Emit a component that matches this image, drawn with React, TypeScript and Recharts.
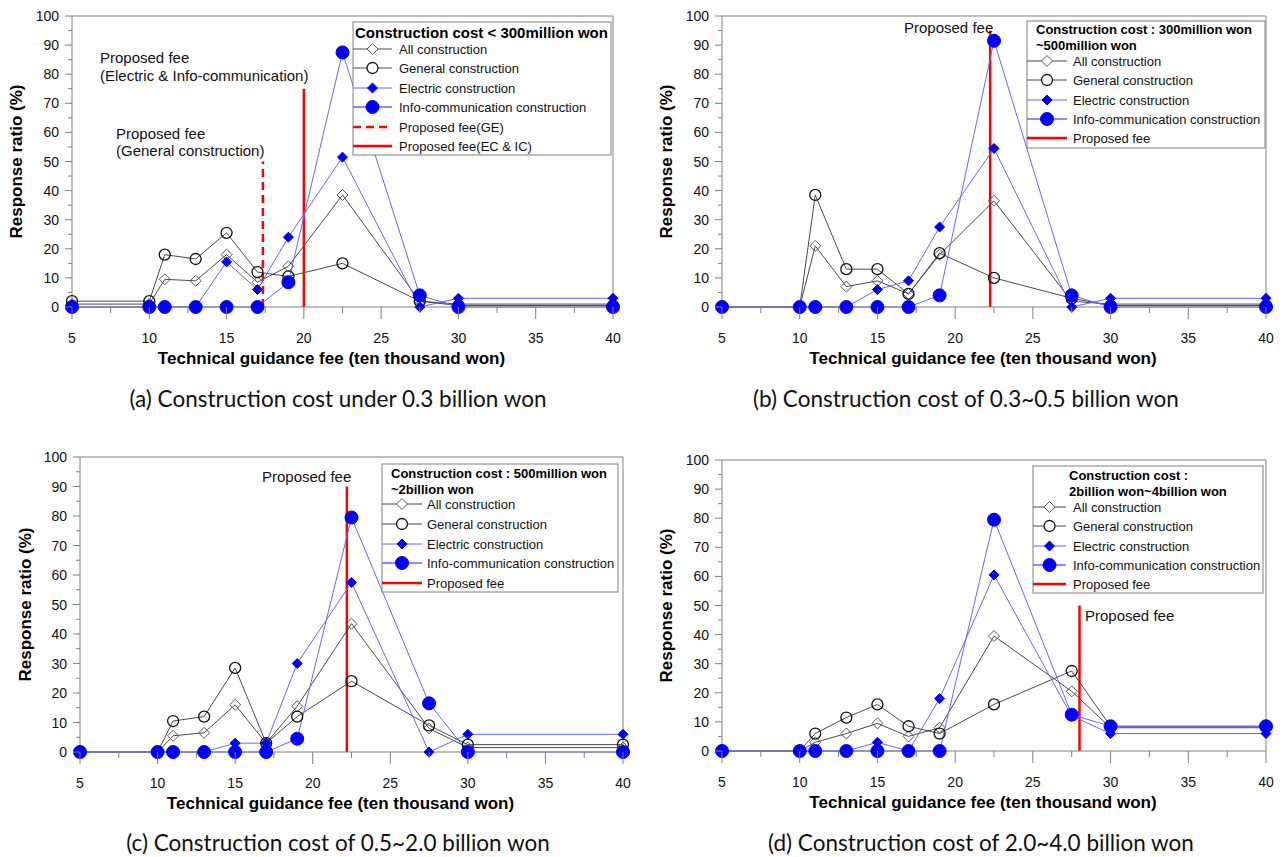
import React from 'react';
import { LineChart, Line, XAxis, YAxis, ReferenceLine } from 'recharts';

// ---------------- data ----------------
const fees = [5, 10, 11, 13, 15, 17, 19, 22.5, 27.5, 30, 40];

// (a) construction cost < 300 million won
const aAll = [1, 1, 9.5, 9, 18, 8.5, 14, 38.5, 2, 1, 1];
const aGeneral = [2, 2, 18, 16.5, 25.5, 12, 10.5, 15, 2, 0.5, 0.5];
const aElectric = [0, 0, 0, 0, 15.5, 6, 24, 51.5, 0, 3, 3];
const aInfo = [0, 0, 0, 0, 0, 0, 8.5, 87.5, 4, 0, 0];

// (b) 300 million ~ 500 million won
const bAll = [0, 0, 21, 7, 9, 4.5, 18, 36.5, 2, 1, 1];
const bGeneral = [0, 0, 38.5, 13, 13, 4.5, 18.5, 10, 3, 0.5, 0.5];
const bElectric = [0, 0, 0, 0, 6, 9, 27.5, 54.5, 0, 3, 3];
const bInfo = [0, 0, 0, 0, 0, 0, 4, 91.5, 4, 0, 0];

// (c) 500 million ~ 2 billion won
const cAll = [0, 0, 5.5, 6.5, 16, 3, 15.5, 43.5, 8, 1.5, 1.5];
const cGeneral = [0, 0, 10.5, 12, 28.5, 3, 12, 24, 9, 2.5, 2.5];
const cElectric = [0, 0, 0, 0, 3, 3, 30, 57.5, 0, 6, 6];
const cInfo = [0, 0, 0, 0, 0, 0, 4.5, 79.5, 16.5, 0, 0];

// (d) 2 billion ~ 4 billion won
const dAll = [0, 0, 3, 6, 9.5, 5, 8, 39.5, 20.5, 8, 8];
const dGeneral = [0, 0, 6, 11.5, 16, 8.5, 6, 16, 27.5, 8.5, 8.5];
const dElectric = [0, 0, 0, 0, 3, 0, 18, 60.5, 12, 6, 6];
const dInfo = [0, 0, 0, 0, 0, 0, 0, 79.5, 12.5, 8.5, 8.5];

// proposed fee lines: [x, top value]
const aFeeGE = [17.35, 50];
const aFeeEC = [20, 75];
const bFee = [22.25, 95];
const cFee = [22.2, 90];
const dFee = [28, 50];

const xTicks = [5, 7.5, 10, 12.5, 15, 17.5, 20, 22.5, 25, 27.5, 30, 32.5, 35, 37.5, 40];
const yTicks = [0, 5, 10, 15, 20, 25, 30, 35, 40, 45, 50, 55, 60, 65, 70, 75, 80, 85, 90, 95, 100];

const seriesLabels = ['All construction', 'General construction', 'Electric construction', 'Info-communication construction'];

// ---------------- styles ----------------
const FONT = '"Liberation Sans", Arial, sans-serif';
const CAP_FONT = 'Lato, "Open Sans", sans-serif';
const BLUE = '#0000ff';
const BLUE_LINE = '#6666ff';
const GRAY_LINE = '#4a4a4a';
const AXIS = '#808080';
const RED = '#ff0000';

type Geo = { x0: number; x1: number; y0: number; y1: number };
const PA: Geo = { x0: 72, x1: 613, y0: 16, y1: 307 };
const PB: Geo = { x0: 722, x1: 1266, y0: 16, y1: 307 };
const PC: Geo = { x0: 80, x1: 623, y0: 457, y1: 752 };
const PD: Geo = { x0: 722, x1: 1266, y0: 460, y1: 751 };

function YTick(props: any) {
  const { x, y, payload } = props;
  const v = payload.value;
  const major = v % 10 === 0;
  return (
    <g>
      <line x1={x - (major ? 7 : 4)} x2={x} y1={y} y2={y} stroke={AXIS} strokeWidth={1} />
      {major && (
        <text x={x - 13} y={y} textAnchor="end" dominantBaseline="central" fontSize={14} fill="#111" fontFamily={FONT}>
          {v}
        </text>
      )}
    </g>
  );
}

function XTick(props: any) {
  const { x, y, payload } = props;
  const v = payload.value;
  const major = v % 5 === 0;
  return (
    <g>
      <line x1={x} x2={x} y1={y} y2={y + (major ? 12 : 6)} stroke={AXIS} strokeWidth={1} />
      {major && (
        <text x={x} y={y + 31} textAnchor="middle" dominantBaseline="central" fontSize={14} fill="#111" fontFamily={FONT}>
          {v}
        </text>
      )}
    </g>
  );
}

const diamondPath = (cx: number, cy: number, s: number) => `M${cx},${cy - s}L${cx + s},${cy}L${cx},${cy + s}L${cx - s},${cy}Z`;

const diamondDot = (filled: boolean) => (p: any) => {
  const { cx, cy, index } = p;
  if (cx == null || cy == null) return <g key={`d${index}`} />;
  return (
    <path
      key={`d${index}`}
      d={diamondPath(cx, cy, filled ? 5 : 5.5)}
      fill={filled ? BLUE : 'none'}
      stroke={filled ? BLUE : '#555'}
      strokeWidth={1}
    />
  );
};

type RefSeg = { x: number; top: number; dashed?: boolean };

function Chart({ g, all, general, electric, info, refs }: { g: Geo; all: number[]; general: number[]; electric: number[]; info: number[]; refs: RefSeg[] }) {
  const ML = 72, MT = 16, MR = 30, MB = 50;
  const YW = 60, XH = 30;
  const width = g.x1 - g.x0 + ML + MR;
  const height = g.y1 - g.y0 + MT + MB;
  const rows = fees.map((f, i) => ({ fee: f, all: all[i], general: general[i], electric: electric[i], info: info[i] }));
  return (
    <div style={{ position: 'absolute', left: g.x0 - ML, top: g.y0 - MT }}>
      <LineChart width={width} height={height} data={rows} margin={{ left: ML - YW, top: MT, right: MR, bottom: MB - XH }}>
        <XAxis
          type="number"
          dataKey="fee"
          domain={[5, 40]}
          ticks={xTicks}
          interval={0}
          tickSize={0}
          tickMargin={0}
          tickLine={false}
          tick={<XTick />}
          stroke={AXIS}
          height={XH}
        />
        <YAxis
          type="number"
          domain={[0, 100]}
          ticks={yTicks}
          interval={0}
          tickSize={0}
          tickMargin={0}
          tickLine={false}
          tick={<YTick />}
          stroke={AXIS}
          width={YW}
        />
        <ReferenceLine y={100} stroke={AXIS} strokeWidth={1} />
        <ReferenceLine x={40} stroke={AXIS} strokeWidth={1} />
        {refs.map((r, i) => (
          <ReferenceLine
            key={`r${i}`}
            segment={[{ x: r.x, y: 0 }, { x: r.x, y: r.top }]}
            stroke={RED}
            strokeWidth={2.5}
            strokeDasharray={r.dashed ? '8 5' : undefined}
            ifOverflow="visible"
          />
        ))}
        <Line type="linear" dataKey="all" stroke={GRAY_LINE} strokeWidth={1} dot={diamondDot(false)} activeDot={false} isAnimationActive={false} />
        <Line type="linear" dataKey="general" stroke={GRAY_LINE} strokeWidth={1} dot={{ r: 5.5, fill: 'none', stroke: '#111', strokeWidth: 1.3 }} activeDot={false} isAnimationActive={false} />
        <Line type="linear" dataKey="electric" stroke={BLUE_LINE} strokeWidth={1} dot={diamondDot(true)} activeDot={false} isAnimationActive={false} />
        <Line type="linear" dataKey="info" stroke={BLUE_LINE} strokeWidth={1} dot={{ r: 6.5, fill: BLUE, stroke: BLUE, strokeWidth: 1 }} activeDot={false} isAnimationActive={false} />
      </LineChart>
    </div>
  );
}

type LegendSpec = {
  box: [number, number, number, number];
  titleSize: number;
  titleX: number;
  titles: [string, number][];
  rows: number[];
  sym: [number, number];
  textX: number;
  extra: { label: string; dashed: boolean }[];
};

function LegendSym({ kind, x0, x1, y }: { kind: string; x0: number; x1: number; y: number }) {
  const cx = (x0 + x1) / 2;
  if (kind === 'all')
    return (
      <g>
        <line x1={x0} x2={x1} y1={y} y2={y} stroke={GRAY_LINE} strokeWidth={1} />
        <path d={diamondPath(cx, y, 5.5)} fill="#fff" stroke="#555" strokeWidth={1} />
      </g>
    );
  if (kind === 'general')
    return (
      <g>
        <line x1={x0} x2={x1} y1={y} y2={y} stroke={GRAY_LINE} strokeWidth={1} />
        <circle cx={cx} cy={y} r={5.5} fill="#fff" stroke="#111" strokeWidth={1.3} />
      </g>
    );
  if (kind === 'electric')
    return (
      <g>
        <line x1={x0} x2={x1} y1={y} y2={y} stroke={BLUE_LINE} strokeWidth={1} />
        <path d={diamondPath(cx, y, 5)} fill={BLUE} stroke={BLUE} strokeWidth={1} />
      </g>
    );
  if (kind === 'info')
    return (
      <g>
        <line x1={x0} x2={x1} y1={y} y2={y} stroke={BLUE_LINE} strokeWidth={1.5} />
        <circle cx={cx} cy={y} r={6.5} fill={BLUE} stroke={BLUE} />
      </g>
    );
  return <line x1={x0} x2={x1} y1={y} y2={y} stroke={RED} strokeWidth={2.5} strokeDasharray={kind === 'dash' ? '8 5' : undefined} />;
}

function LegendBox({ spec }: { spec: LegendSpec }) {
  const [bx, by, bw, bh] = spec.box;
  const kinds = ['all', 'general', 'electric', 'info'];
  const items = [
    ...seriesLabels.map((l, i) => ({ label: l, kind: kinds[i] })),
    ...spec.extra.map((e) => ({ label: e.label, kind: e.dashed ? 'dash' : 'solid' })),
  ];
  return (
    <g>
      <rect x={bx} y={by} width={bw} height={bh} fill="#fff" stroke={AXIS} strokeWidth={1} />
      {spec.titles.map(([t, ty], i) => (
        <text key={`t${i}`} x={spec.titleX} y={ty} dominantBaseline="central" fontSize={spec.titleSize} fontWeight="bold" fontFamily={FONT} fill="#000">
          {t}
        </text>
      ))}
      {items.map((it, i) => (
        <g key={`i${i}`}>
          <LegendSym kind={it.kind} x0={spec.sym[0]} x1={spec.sym[1]} y={spec.rows[i]} />
          <text x={spec.textX} y={spec.rows[i]} dominantBaseline="central" fontSize={13} fontFamily={FONT} fill="#111">
            {it.label}
          </text>
        </g>
      ))}
    </g>
  );
}

const legendA: LegendSpec = {
  box: [353, 22, 258, 133],
  titleSize: 15,
  titleX: 355,
  titles: [['Construction cost < 300million won', 32]],
  rows: [49, 68, 88, 107, 127, 146],
  sym: [353, 392],
  textX: 399,
  extra: [
    { label: 'Proposed fee(GE)', dashed: true },
    { label: 'Proposed fee(EC & IC)', dashed: false },
  ],
};
const legendB: LegendSpec = {
  box: [1027, 21, 238, 127],
  titleSize: 13,
  titleX: 1036,
  titles: [['Construction cost : 300million won', 29], ['~500million won', 45]],
  rows: [61, 80, 100, 119, 138],
  sym: [1027, 1067],
  textX: 1073,
  extra: [{ label: 'Proposed fee', dashed: false }],
};
const legendC: LegendSpec = {
  box: [382, 464, 236, 128],
  titleSize: 13,
  titleX: 391,
  titles: [['Construction cost : 500million won', 473], ['~2billion won', 489]],
  rows: [504, 524, 544, 563, 583],
  sym: [382, 422],
  textX: 427,
  extra: [{ label: 'Proposed fee', dashed: false }],
};
const legendD: LegendSpec = {
  box: [1033, 466, 230, 127],
  titleSize: 13,
  titleX: 1069,
  titles: [['Construction cost :', 475], ['2billion won~4billion won', 491]],
  rows: [507, 526, 546, 565, 584],
  sym: [1033, 1066],
  textX: 1073,
  extra: [{ label: 'Proposed fee', dashed: false }],
};

function Txt({ x, y, children, size = 15, bold = false, anchor = 'start', family = FONT }: any) {
  return (
    <text x={x} y={y} textAnchor={anchor} dominantBaseline="central" fontSize={size} fontWeight={bold ? 'bold' : 'normal'} fontFamily={family} fill="#111">
      {children}
    </text>
  );
}

function AxisTitles({ g, yTitleX }: { g: Geo; yTitleX: number }) {
  const cy = (g.y0 + g.y1) / 2;
  const cx = (g.x0 + g.x1) / 2 - 11;
  return (
    <g>
      <text x={yTitleX} y={cy} transform={`rotate(-90 ${yTitleX} ${cy})`} textAnchor="middle" dominantBaseline="central" fontSize={17} fontWeight="bold" fontFamily={FONT} fill="#000">
        Response ratio (%)
      </text>
      <text x={cx} y={g.y1 + 51} textAnchor="middle" dominantBaseline="central" fontSize={17} fontWeight="bold" fontFamily={FONT} fill="#000">
        Technical guidance fee (ten thousand won)
      </text>
    </g>
  );
}

export default function App() {
  return (
    <div style={{ position: 'absolute', left: 0, top: 0, width: 1284, height: 857, background: '#fff', overflow: 'hidden' }}>
      <Chart g={PA} all={aAll} general={aGeneral} electric={aElectric} info={aInfo} refs={[{ x: aFeeGE[0], top: aFeeGE[1], dashed: true }, { x: aFeeEC[0], top: aFeeEC[1] }]} />
      <Chart g={PB} all={bAll} general={bGeneral} electric={bElectric} info={bInfo} refs={[{ x: bFee[0], top: bFee[1] }]} />
      <Chart g={PC} all={cAll} general={cGeneral} electric={cElectric} info={cInfo} refs={[{ x: cFee[0], top: cFee[1] }]} />
      <Chart g={PD} all={dAll} general={dGeneral} electric={dElectric} info={dInfo} refs={[{ x: dFee[0], top: dFee[1] }]} />
      <svg width={1284} height={857} style={{ position: 'absolute', left: 0, top: 0, pointerEvents: 'none' }}>
        <AxisTitles g={PA} yTitleX={16} />
        <AxisTitles g={PB} yTitleX={666} />
        <AxisTitles g={PC} yTitleX={25} />
        <AxisTitles g={PD} yTitleX={666} />

        <Txt x={100} y={57}>Proposed fee</Txt>
        <Txt x={100} y={75}>(Electric &amp; Info-communication)</Txt>
        <Txt x={116} y={133}>Proposed fee</Txt>
        <Txt x={116} y={150}>(General construction)</Txt>
        <Txt x={904} y={27}>Proposed fee</Txt>
        <Txt x={262} y={476}>Proposed fee</Txt>
        <Txt x={1085} y={615}>Proposed fee</Txt>

        <LegendBox spec={legendA} />
        <LegendBox spec={legendB} />
        <LegendBox spec={legendC} />
        <LegendBox spec={legendD} />

        <Txt x={338} y={398} size={22.5} anchor="middle" family={CAP_FONT}>(a) Construction cost under 0.3 billion won</Txt>
        <Txt x={966} y={398} size={22.5} anchor="middle" family={CAP_FONT}>(b) Construction cost of 0.3~0.5 billion won</Txt>
        <Txt x={338} y={842} size={22.5} anchor="middle" family={CAP_FONT}>(c) Construction cost of 0.5~2.0 billion won</Txt>
        <Txt x={981} y={842} size={22.5} anchor="middle" family={CAP_FONT}>(d) Construction cost of 2.0~4.0 billion won</Txt>
      </svg>
    </div>
  );
}
